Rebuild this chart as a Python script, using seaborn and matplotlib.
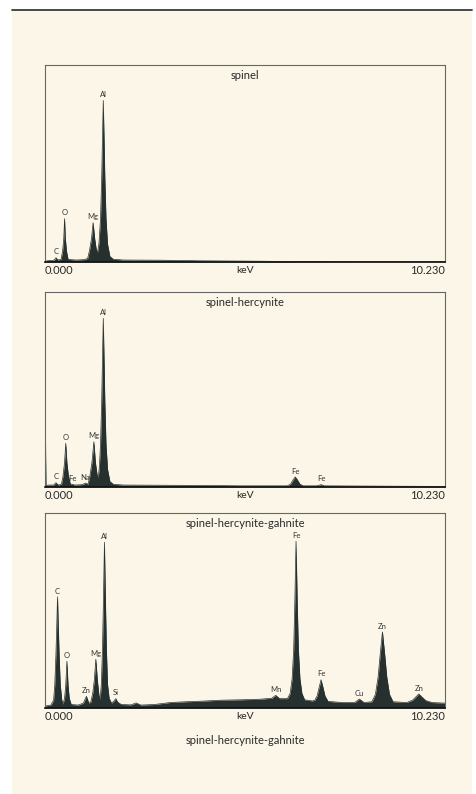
import matplotlib
matplotlib.use("Agg")
import matplotlib.pyplot as plt
import seaborn as sns
from matplotlib.patches import Rectangle
from matplotlib.lines import Line2D

# --- spectra: vertices (keV, counts; 1000 = top of frame) ---
spinel_kev = [0.00, 0.05, 0.18, 0.24, 0.28, 0.33, 0.41, 0.45, 0.48, 0.50, 0.52, 0.55, 0.59,
              0.66, 0.80, 1.00, 1.09, 1.14, 1.19, 1.23, 1.27, 1.31, 1.34, 1.38, 1.42, 1.45,
              1.47, 1.49, 1.51, 1.53, 1.56, 1.60, 1.66, 1.75, 2.00, 3.00, 4.00, 5.50, 6.50,
              8.00, 10.23]
spinel_counts = [0, 6, 8, 10, 22, 10, 14, 55, 120, 220, 120, 55, 14,
                 12, 10, 12, 18, 60, 120, 200, 120, 65, 45, 95, 220, 430,
                 630, 820, 630, 430, 220, 90, 28, 14, 10, 9, 6, 4, 2,
                 1, 1]
spinel_labels = ["C", "O", "Mg", "Al"]
spinel_label_kev = [0.28, 0.50, 1.22, 1.49]
spinel_label_counts = [22, 220, 200, 820]

herc_kev = [0.00, 0.025, 0.10, 0.22, 0.28, 0.34, 0.42, 0.46, 0.50, 0.53, 0.56, 0.60, 0.65,
            0.70, 0.76, 0.95, 1.04, 1.10, 1.15, 1.20, 1.25, 1.29, 1.33, 1.36, 1.39, 1.42,
            1.45, 1.47, 1.49, 1.51, 1.53, 1.56, 1.60, 1.66, 1.75, 2.00, 3.00, 4.00, 5.00,
            6.20, 6.28, 6.34, 6.40, 6.46, 6.52, 6.60, 6.95, 7.06, 7.15, 8.00, 9.00, 10.23]
herc_counts = [460, 8, 10, 10, 22, 10, 14, 55, 125, 224, 125, 55, 14,
               14, 10, 12, 20, 14, 60, 125, 232, 125, 65, 48, 100, 220,
               440, 660, 865, 660, 440, 220, 90, 28, 14, 10, 9, 8, 6,
               6, 15, 35, 52, 35, 15, 6, 6, 12, 6, 5, 4, 3]
herc_labels = ["C", "Fe", "Na", "O", "Mg", "Al", "Fe", "Fe"]
herc_label_kev = [0.28, 0.70, 1.02, 0.53, 1.25, 1.49, 6.40, 7.06]
herc_label_counts = [22, 14, 20, 224, 232, 865, 52, 12]

gahn_kev = [0.00, 0.15, 0.22, 0.25, 0.28, 0.30, 0.32, 0.34, 0.36, 0.39, 0.43, 0.46, 0.50,
            0.53, 0.56, 0.59, 0.62, 0.67, 0.85, 0.98, 1.06, 1.12, 1.17, 1.22, 1.26, 1.30,
            1.34, 1.38, 1.41, 1.44, 1.47, 1.495, 1.52, 1.545, 1.57, 1.60, 1.64, 1.70, 1.76,
            1.81, 1.86, 1.95, 2.20, 2.33, 2.45, 2.80, 3.20, 3.60, 4.00, 4.50, 5.00, 5.50,
            5.80, 5.90, 6.00, 6.20, 6.27, 6.32, 6.36, 6.39, 6.42, 6.45, 6.48, 6.52, 6.57,
            6.64, 6.84, 6.90, 6.96, 7.01, 7.06, 7.11, 7.16, 7.24, 7.60, 7.92, 8.04, 8.16,
            8.36, 8.45, 8.52, 8.57, 8.63, 8.69, 8.74, 8.81, 8.90, 9.25, 9.40, 9.49, 9.56,
            9.63, 9.74, 9.90, 10.23]
gahn_counts = [10, 15, 40, 120, 280, 420, 570, 420, 280, 120, 40, 20, 50,
               115, 240, 115, 50, 18, 15, 25, 60, 25, 30, 75, 140, 250,
               140, 65, 45, 120, 300, 560, 850, 560, 300, 120, 50, 25, 35,
               48, 30, 18, 16, 26, 15, 18, 28, 32, 35, 40, 42, 45,
               50, 65, 48, 48, 75, 150, 300, 550, 855, 550, 300, 150, 75,
               42, 36, 40, 62, 105, 145, 105, 62, 34, 28, 28, 46, 28,
               32, 70, 160, 270, 390, 270, 160, 70, 32, 28, 40, 58, 72,
               58, 38, 28, 25]
gahn_labels = ["C", "O", "Zn", "Mg", "Al", "Si", "Mn", "Fe", "Fe", "Cu", "Zn", "Zn"]
gahn_label_kev = [0.32, 0.56, 1.06, 1.30, 1.52, 1.81, 5.90, 6.42, 7.06, 8.04, 8.63, 9.56]
gahn_label_counts = [570, 240, 60, 250, 850, 48, 65, 855, 145, 46, 390, 72]

titles = ["spinel", "spinel-hercynite", "spinel-hercynite-gahnite"]
caption = "spinel-hercynite-gahnite"

sns.set_style("white")
plt.rcParams["font.family"] = ["Lato", "DejaVu Sans"]

paper = "#fbf6e8"
ink = "#26302e"
text_col = "#2a2a2a"

fig = plt.figure(figsize=(4.77, 7.94), dpi=100, facecolor="white")
fig.patches.append(Rectangle((12 / 477, 0), 460 / 477, 784 / 794,
                             transform=fig.transFigure, facecolor=paper,
                             edgecolor="none", zorder=-10))
fig.lines.append(Line2D([12 / 477, 472 / 477], [1 - 10 / 794, 1 - 10 / 794],
                        transform=fig.transFigure, color="#3a3a3a", lw=1.3, zorder=-5))

# frame positions in pixels: (top, bottom)
frames = [(65, 262), (292, 487), (513, 708)]
spectra = [
    (spinel_kev, spinel_counts, spinel_labels, spinel_label_kev, spinel_label_counts),
    (herc_kev, herc_counts, herc_labels, herc_label_kev, herc_label_counts),
    (gahn_kev, gahn_counts, gahn_labels, gahn_label_kev, gahn_label_counts),
]

for (top, bottom), (kev, counts, labs, lab_x, lab_y), title in zip(frames, spectra, titles):
    ax = fig.add_axes([45 / 477, 1 - bottom / 794, 400 / 477, (bottom - top) / 794])
    ax.set_facecolor("none")
    ax.fill_between(kev, counts, 0, color=ink, lw=0)
    sns.lineplot(x=kev, y=counts, ax=ax, color=ink, lw=0.5, estimator=None)
    ax.set_xlim(0, 10.23)
    ax.set_ylim(0, 1000)
    ax.set_yticks([])
    ax.set_xticks([0, 10.23], ["0.000", "10.230"])
    ax.tick_params(axis="x", length=0, pad=2.5, labelsize=8, labelcolor=text_col)
    tl = ax.get_xticklabels()
    tl[0].set_ha("left")
    tl[1].set_ha("right")
    ax.text(0.5, -0.018, "keV", transform=ax.transAxes, ha="center", va="top",
            fontsize=7.5, color=text_col)
    ax.text(0.5, 0.975, title, transform=ax.transAxes, ha="center", va="top",
            fontsize=8, color=text_col)
    for name, x, y in zip(labs, lab_x, lab_y):
        ax.text(x, y + 12, name, ha="center", va="bottom", fontsize=5.5, color="#333")
    for side in ["top", "left", "right"]:
        ax.spines[side].set_color("#666")
        ax.spines[side].set_linewidth(0.8)
    ax.spines["bottom"].set_color("#111")
    ax.spines["bottom"].set_linewidth(1.2)

fig.text(245 / 477, 1 - 740 / 794, caption, ha="center", va="center",
         fontsize=8, color=text_col)

fig.savefig("out.png", dpi=100, facecolor="white")
